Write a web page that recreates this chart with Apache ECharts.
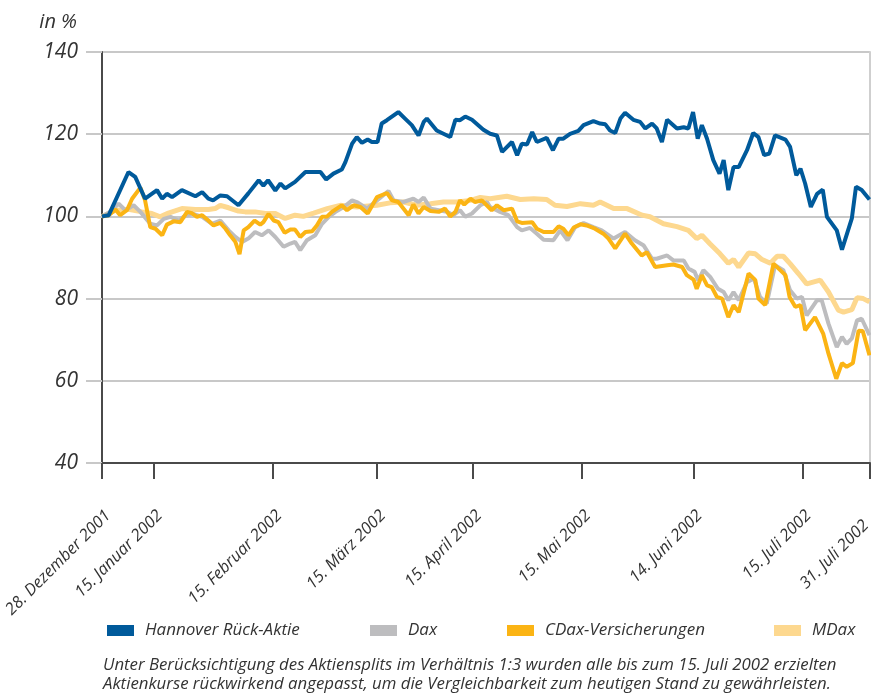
<!DOCTYPE html>
<html><head><meta charset="utf-8">
<script src="https://cdn.jsdelivr.net/npm/echarts@6/dist/echarts.min.js"></script>
<style>html,body{margin:0;padding:0;background:#fff}#c{width:871px;height:700px}</style>
</head><body><div id="c"></div>
<script>
// x = trading day index since 28.12.2001
const tickDays = [0, 10, 33, 53, 71.5, 92.5, 114, 135, 148];
const tickLabels = ['28. Dezember 2001','15. Januar 2002','15. Februar 2002','15. März 2002','15. April 2002','15. Mai 2002','14. Juni 2002','15. Juli 2002','31. Juli 2002'];
const yTicks = [40, 60, 80, 100, 120, 140];

const hannoverDays = [0,1.3,5.1,6.4,8.3,10.6,11.6,12.5,13.5,15.4,18.0,19.3,20.5,21.4,22.8,24.1,26.3,28.2,30.2,31.1,32.0,33.4,34.4,35.3,37.2,39.2,42.1,43.2,44.6,46.2,46.9,48.2,49.1,50.1,51.2,52.0,53.1,53.9,54.9,57.1,58.4,59.7,61.0,62.0,62.6,64.5,65.8,67.1,68.1,69.0,70.0,71.3,73.5,74.8,76.1,77.1,79.0,80.0,80.9,81.9,82.9,83.8,85.7,86.9,88.0,88.9,90.2,91.8,92.8,94.7,96.0,97.0,97.9,98.9,99.9,100.8,102.4,103.7,104.7,106.0,106.9,107.9,108.9,110.8,112.1,113.0,113.9,114.8,115.6,116.6,117.8,119.0,119.8,120.7,121.7,122.7,124.3,125.5,126.5,127.6,128.6,129.7,131.7,132.6,133.8,134.6,135.5,136.6,137.8,138.9,139.7,141.6,142.6,144.5,145.3,146.4,147.9];
const hannoverValues = [100,100.3,110.8,109.6,104.3,106.4,104.3,105.5,104.7,106.4,104.9,105.9,104.3,103.9,105.1,104.9,102.7,105.6,108.8,107.5,108.8,106.3,108,106.8,108.4,110.8,110.8,109,110.4,111.4,113.2,117.7,119.3,117.9,118.7,118.1,118.1,122.6,123.4,125.4,123.8,122.2,119.7,123,123.8,120.9,120.1,119.3,123.5,123.4,124.3,123.5,121.1,120.1,119.7,115.7,118.1,114.9,117.7,117.5,120.5,118.1,119.1,116.1,118.9,118.9,120.1,120.8,122.2,123.2,122.6,122.4,120.9,120.3,123.8,125.2,123.5,123,121.4,122.6,121.4,118.1,123.5,121.4,121.7,121.4,125.4,118.9,122.2,118.9,113.7,110.4,113.7,106.4,112,112,116.1,120.3,119.3,114.9,115.3,119.7,118.7,116.9,110,111.6,108,102.3,105.5,106.5,99.9,96.6,91.9,99.5,107.2,106.4,104.1];

const daxDays = [0,1.6,3.2,4.5,6.1,7.4,9.3,10.6,11.9,13.2,14.8,15.7,17.3,19.3,21.2,22.8,24.4,25.7,27.0,28.2,29.5,30.8,32.1,33.4,35.0,36.3,37.2,38.2,39.5,41.1,42.4,43.7,45.0,46.6,48.2,49.1,51.1,53.0,55.2,56.2,58.1,60.0,61.0,62.0,63.3,64.9,66.5,67.7,69.0,70.0,71.3,72.9,74.2,74.8,76.7,78.3,80.0,80.9,82.5,83.8,85.1,87.0,88.3,89.7,91.2,92.8,94.7,96.3,98.6,100.8,102.7,104.4,106.0,106.9,108.9,110.1,112.1,113.0,114.2,114.9,115.9,117.2,118.7,119.8,120.7,121.7,122.7,124.3,125.6,126.8,128.1,129.7,131.3,132.6,133.9,134.9,135.8,137.8,138.7,140.0,141.6,142.6,143.5,144.5,145.5,146.4,147.9];
const daxValues = [100,101.1,103.1,101.5,102.7,101.1,98.2,97.8,99.4,99.9,99,99.9,100.7,99.9,98.2,99,96.6,95,93.8,94.6,96.2,95.4,96.6,95,92.6,93.4,93.8,91.8,94.2,95.4,98.2,99.9,101.1,102.3,103.9,103.5,101.9,103.9,106.2,103.9,103.5,104.3,103.5,104.6,101.9,101.5,101.1,100.3,101.5,99.9,100.7,102.7,103.5,102.3,101.1,100.3,97.4,96.6,97.2,95.8,94.3,94.2,96.6,94.2,97.4,98.4,97.4,96.6,94.6,96.2,94.2,92.9,89.7,89.7,90.5,89.3,89.3,87.3,86.5,84.4,86.9,85.3,82.4,81.6,79.6,81.6,79.6,84,84.9,80.4,78.8,88.1,86.9,82,80,80.4,75.9,79.6,79.6,73.9,68.2,70.7,69,70.3,74.7,75.1,71.1];

const cdaxDays = [0,1.3,2.6,3.5,4.8,5.8,7.4,8.3,9.3,10.3,11.6,12.5,13.8,15.1,16.4,17.3,18.3,19.3,20.5,21.5,22.8,23.8,24.7,25.7,26.5,27.3,28.2,29.4,30.5,31.1,32.1,33.1,34.0,35.2,36.3,37.2,38.2,39.2,40.5,41.4,42.4,43.4,44.3,46.2,47.2,48.5,49.8,51.2,53.0,54.9,55.9,57.1,59.1,60.0,61.0,62.0,63.3,64.9,66.1,67.1,68.1,69.0,69.8,71.0,71.9,73.2,75.1,76.1,77.4,79.0,80.0,80.9,82.9,83.8,85.1,87.0,88.0,88.9,89.9,90.9,92.2,93.4,95.0,96.6,97.6,98.9,100.8,102.1,104.0,105.0,106.6,108.9,110.1,111.8,112.7,114.0,114.6,115.6,116.6,117.5,118.5,119.5,120.7,121.7,122.7,124.6,125.9,126.5,127.8,129.4,131.7,132.5,133.6,134.6,135.5,137.4,139.0,140.0,141.5,142.6,143.5,144.7,145.8,146.6,147.9];
const cdaxValues = [100,100.3,101.7,100.3,101.5,104.3,107,103.9,97.4,97,95.4,98,98.8,98.6,101.1,100.8,99.9,100.3,99,97.8,98.4,97,95.4,93.8,90.8,96.6,97.4,99,98,98.6,100.6,99,98.6,96,96.8,96.8,95,96.2,96.4,97.8,99.9,100,101.1,102.7,101.5,102.7,102.3,100.7,104.7,105.7,103.9,103.5,100.3,102.9,100.7,102.3,101.3,101.1,101.9,100,101.1,103.9,102.9,104.3,103.5,103.9,101.5,102.7,101.5,101.9,98.8,98.4,98.6,97,96.2,96.2,97.6,97,95.4,97.3,98.1,97.8,97,95.8,94.6,92.2,95.8,93.4,90.5,91.3,87.7,88.1,88.3,87.7,85.7,84.6,82.4,85.7,83.2,82.8,80.4,80,75.5,78.4,76.7,86.1,84.5,80,78.4,88.5,85.7,80.4,78,78.4,72.3,75.5,71.4,66.6,60.5,64.3,63.4,64.3,72.2,72.1,66.2];

const mdaxDays = [0,2.6,5.1,7.7,9.6,11.2,12.8,15.4,18.0,20.5,21.8,22.8,24.4,26.3,27.6,29.5,31.5,33.4,35.3,37.2,38.8,40.8,43.4,45.9,49.1,53.0,55.5,58.1,60.7,63.3,65.8,68.4,71.0,72.9,74.8,78.0,80.6,83.2,85.7,87.3,89.6,92.2,94.7,96.0,98.6,101.2,104.1,105.6,108.2,110.8,113.0,114.6,115.6,117.2,119.1,120.7,121.7,122.7,124.6,125.9,127.2,128.8,130.1,131.3,132.6,134.2,135.8,138.4,140.0,141.9,142.9,144.5,145.5,146.7,147.9];
const mdaxValues = [100,101.5,101.7,101.1,100.7,99.9,100.8,101.9,101.7,101.7,101.9,102.7,102.1,101.3,101.1,101.1,100.7,100.7,99.5,100.3,100,100.8,101.9,102.7,102.3,102.7,103.3,103.5,102.7,103.1,103.5,103.5,103.9,104.6,104.3,104.9,104.1,104.3,104.1,102.7,102.4,103.1,102.7,103.5,101.9,101.9,100.3,99.9,98.2,97.5,96.6,94.6,95.4,93.3,90.9,88.6,89.5,87.7,91.1,90.9,89.5,88.6,90.3,90.3,88.5,86.1,83.6,84.5,81.6,77.2,76.7,77.3,80.2,80,79.2];

const seriesNames = ['Hannover Rück-Aktie','Dax','CDax-Versicherungen','MDax'];
const footnote = 'Unter Berücksichtigung des Aktiensplits im Verhältnis 1:3 wurden alle bis zum 15. Juli 2002 erzielten\nAktienkurse rückwirkend angepasst, um die Vergleichbarkeit zum heutigen Stand zu gewährleisten.';

function pairs(d, v) { return d.map((x, i) => [x, v[i]]); }

const FONT = '"Open Sans", "DejaVu Sans", sans-serif';
const colors = { h: '#005a9b', dax: '#bdbdbf', cdax: '#fbb414', mdax: '#fdd88f' };

const chart = echarts.init(document.getElementById('c'), null, { renderer: 'canvas' });
const legendLeft = [102, 365, 502, 769];
const legendColors = [colors.h, colors.dax, colors.cdax, colors.mdax];
const labelFont = { fontFamily: FONT, fontStyle: 'italic', fontSize: 16.5, color: '#333' };

chart.setOption({
  animation: false,
  backgroundColor: '#fff',
  grid: { left: 102, right: 1, top: 52, bottom: 237, containLabel: false, outerBoundsMode: 'none' },
  xAxis: {
    type: 'value', min: 0, max: 148,
    axisLine: { show: true, onZero: false, lineStyle: { color: '#4a4a4a', width: 2 } },
    axisTick: { show: true, length: 16, customValues: tickDays, lineStyle: { color: '#4a4a4a', width: 2 } },
    axisLabel: Object.assign({
      customValues: tickDays, rotate: 45, margin: 44, align: 'right', verticalAlign: 'top',
      formatter: v => {
        const i = tickDays.indexOf(v);
        if (i < 0) return '';
        return i === tickLabels.length - 1 ? '{last|' + tickLabels[i] + '}' : tickLabels[i];
      },
      rich: { last: Object.assign({ padding: [0, 14, 0, 0] }, labelFont) }
    }, labelFont),
    splitLine: { show: false }
  },
  yAxis: [{
    type: 'value', min: 40, max: 140, interval: 20,
    name: 'in %', nameLocation: 'end', nameGap: 20,
    nameTextStyle: { fontFamily: FONT, fontStyle: 'italic', fontWeight: 500, fontSize: 20, color: '#333', align: 'right', padding: [0, 25, 0, 0] },
    axisLine: { show: true, lineStyle: { color: '#4a4a4a', width: 2 } },
    axisTick: { show: true, length: 16, lineStyle: { color: '#c8c8c8', width: 2 } },
    axisLabel: { margin: 24, fontFamily: FONT, fontStyle: 'italic', fontSize: 21, color: '#333',
      formatter: v => yTicks.includes(v) ? String(v) : '' },
    splitLine: { show: true, lineStyle: { color: '#c8c8c8', width: 2 } }
  }, {
    type: 'value', min: 40, max: 140, interval: 20, position: 'right',
    axisLine: { show: true, lineStyle: { color: '#cfcfcf', width: 2 } },
    axisTick: { show: false }, axisLabel: { show: false }, splitLine: { show: false }
  }],
  legend: seriesNames.map((n, i) => ({
    data: [n], left: legendLeft[i], top: 617, icon: 'rect', itemWidth: 27, itemHeight: 11,
    selectedMode: false,
    itemStyle: { color: legendColors[i] },
    textStyle: { fontFamily: FONT, fontStyle: 'italic', fontSize: 17, color: '#333', padding: [0, 0, 0, 6] }
  })),
  graphic: [{
    type: 'text', left: 103, top: 656,
    style: { text: footnote, font: 'italic 16.8px ' + FONT, fill: '#333', lineHeight: 19 }
  }],
  series: [
    { name: seriesNames[3], type: 'line', data: pairs(mdaxDays, mdaxValues), showSymbol: false, symbol: 'none', color: colors.mdax, lineStyle: { width: 5, color: colors.mdax }, z: 1 },
    { name: seriesNames[1], type: 'line', data: pairs(daxDays, daxValues), showSymbol: false, symbol: 'none', color: colors.dax, lineStyle: { width: 4, color: colors.dax }, z: 2 },
    { name: seriesNames[2], type: 'line', data: pairs(cdaxDays, cdaxValues), showSymbol: false, symbol: 'none', color: colors.cdax, lineStyle: { width: 4, color: colors.cdax }, z: 3 },
    { name: seriesNames[0], type: 'line', data: pairs(hannoverDays, hannoverValues), showSymbol: false, symbol: 'none', color: colors.h, lineStyle: { width: 4, color: colors.h }, z: 4 }
  ]
});
</script></body></html>
